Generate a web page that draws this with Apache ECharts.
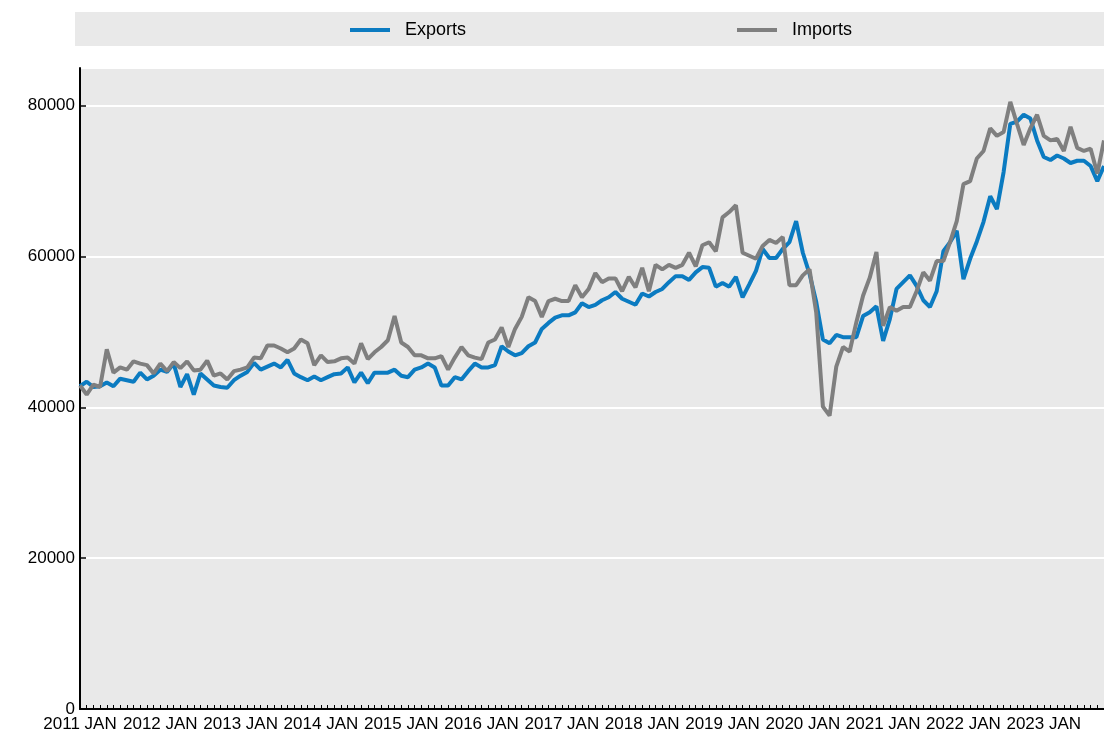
<!DOCTYPE html>
<html>
<head>
<meta charset="utf-8">
<title>Exports and Imports</title>
<script src="https://cdn.jsdelivr.net/npm/echarts@6/dist/echarts.min.js"></script>
<style>
  html, body { margin: 0; padding: 0; background: #fff; }
  #chart { width: 1104px; height: 740px; }
</style>
</head>
<body>
<div id="chart"></div>
<script>
// tick labels
const years = ["2011", "2012", "2013", "2014", "2015", "2016", "2017", "2018", "2019", "2020", "2021", "2022", "2023"];
const monthNames = ["JAN", "FEB", "MAR", "APR", "MAY", "JUN", "JUL", "AUG", "SEP", "OCT", "NOV", "DEC"];
const lastYearMonths = 10; // data runs to Oct 2023

// monthly values
const exportsData = [
  42800, 43400, 42700, 42800, 43300, 42800, 43800, 43600, 43400, 44600, 43700, 44200, // 2011
  45000, 44700, 45800, 42700, 44400, 41700, 44500, 43700, 42900, 42700, 42600, 43600, // 2012
  44200, 44700, 45900, 45000, 45400, 45800, 45300, 46300, 44500, 44000, 43600, 44100, // 2013
  43600, 44000, 44400, 44500, 45300, 43300, 44600, 43200, 44600, 44600, 44600, 45000, // 2014
  44200, 44000, 45000, 45300, 45800, 45300, 42900, 42900, 44000, 43700, 44800, 45800, // 2015
  45300, 45300, 45600, 48100, 47400, 46900, 47200, 48100, 48600, 50400, 51200, 51900, // 2016
  52200, 52200, 52600, 53800, 53300, 53600, 54200, 54600, 55300, 54400, 54000, 53600, // 2017
  55100, 54700, 55300, 55700, 56600, 57400, 57400, 56900, 57900, 58600, 58500, 56000, // 2018
  56500, 56000, 57300, 54600, 56300, 58100, 61000, 59800, 59800, 61000, 61900, 64700, // 2019
  60500, 57700, 54000, 49000, 48500, 49600, 49300, 49300, 49300, 52100, 52600, 53400, // 2020
  48800, 51700, 55700, 56600, 57500, 56100, 54200, 53300, 55400, 60700, 61900, 63400, // 2021
  57000, 59700, 62000, 64600, 68000, 66300, 71200, 77600, 77900, 78800, 78300, 75400, // 2022
  73200, 72800, 73400, 73000, 72400, 72700, 72700, 72000, 70000, 72000                  // 2023
];
const importsData = [
  42900, 41700, 43000, 42700, 47700, 44600, 45300, 45000, 46100, 45800, 45600, 44500, // 2011
  45800, 44800, 46000, 45200, 46100, 44900, 45000, 46200, 44200, 44500, 43700, 44800, // 2012
  45000, 45300, 46600, 46500, 48200, 48200, 47800, 47300, 47800, 49000, 48500, 45600, // 2013
  46900, 46000, 46100, 46500, 46600, 45800, 48500, 46400, 47300, 48000, 48900, 52100, // 2014
  48600, 48000, 46900, 46900, 46500, 46500, 46800, 45000, 46600, 48000, 46900, 46600, // 2015
  46400, 48600, 49000, 50600, 48000, 50400, 52000, 54600, 54100, 52000, 54100, 54400, // 2016
  54100, 54100, 56200, 54600, 55700, 57800, 56600, 57100, 57100, 55400, 57300, 55900, // 2017
  58500, 55400, 58900, 58300, 58900, 58500, 58900, 60500, 58700, 61500, 61900, 60700, // 2018
  65200, 65900, 66800, 60500, 60100, 59700, 61400, 62200, 61800, 62600, 56200, 56200, // 2019
  57500, 58300, 52600, 40100, 38900, 45400, 48000, 47400, 51300, 54800, 57200, 60600, // 2020
  50800, 53300, 52800, 53300, 53300, 55400, 57900, 56800, 59400, 59400, 61900, 64700, // 2021
  69600, 70000, 73000, 74000, 77000, 76000, 76500, 80500, 77600, 74800, 77000, 78800, // 2022
  76000, 75400, 75600, 74000, 77200, 74400, 74000, 74300, 71000, 75400                  // 2023
];

// category axis: one entry per month
const months = [];
years.forEach((y, yi) => {
  const n = yi === years.length - 1 ? lastYearMonths : 12;
  for (let m = 0; m < n; m++) months.push(y + " " + monthNames[m]);
});

const FONT = "'Liberation Sans', Arial, sans-serif";
const BLUE = "#0b7bc1";
const GREY = "#7f7f7f";

const chart = echarts.init(document.getElementById("chart"));

const legendText = { fontFamily: FONT, fontSize: 18, color: "#000", padding: [0, 0, 0, 10] };

const option = {
  animation: false,
  backgroundColor: "#fff",
  textStyle: { fontFamily: FONT, color: "#000" },
  graphic: [
    {
      type: "rect",
      left: 75, top: 12,
      shape: { width: 1029, height: 34 },
      style: { fill: "#e9e9e9" },
      z: -1
    }
  ],
  legend: [
    {
      data: ["Exports"],
      left: 350, top: 21, padding: 0,
      icon: "rect", itemWidth: 40, itemHeight: 4,
      textStyle: legendText
    },
    {
      data: ["Imports"],
      left: 737, top: 21, padding: 0,
      icon: "rect", itemWidth: 40, itemHeight: 4,
      textStyle: legendText
    }
  ],
  grid: {
    left: 80, right: 0, top: 68, bottom: 31,
    show: true, backgroundColor: "#e9e9e9", borderWidth: 0
  },
  xAxis: {
    type: "category",
    data: months,
    boundaryGap: false,
    axisLine: { lineStyle: { color: "#000", width: 2 } },
    axisTick: { show: true, inside: true, length: 4, interval: 0, lineStyle: { color: "#000", width: 1 } },
    axisLabel: {
      interval: (idx) => idx % 12 === 0,
      showMinLabel: true,
      hideOverlap: false,
      fontSize: 17,
      color: "#000",
      margin: 7,
      fontFamily: FONT
    },
    splitLine: { show: false }
  },
  yAxis: {
    type: "value",
    min: 0, max: 85000, interval: 20000,
    axisLine: { show: true, lineStyle: { color: "#000", width: 2 } },
    axisTick: { show: true, inside: true, length: 6, lineStyle: { color: "#000", width: 1.5 } },
    axisLabel: {
      fontSize: 17, color: "#000", margin: 5, fontFamily: FONT,
      showMaxLabel: false,
      formatter: (v) => String(v)
    },
    splitLine: { show: true, lineStyle: { color: "#fff", width: 2 } }
  },
  series: [
    {
      name: "Exports",
      type: "line",
      data: exportsData,
      showSymbol: false,
      symbol: "none",
      lineStyle: { color: BLUE, width: 4 },
      itemStyle: { color: BLUE }
    },
    {
      name: "Imports",
      type: "line",
      data: importsData,
      showSymbol: false,
      symbol: "none",
      lineStyle: { color: GREY, width: 4 },
      itemStyle: { color: GREY }
    }
  ]
};

chart.setOption(option);
</script>
</body>
</html>
